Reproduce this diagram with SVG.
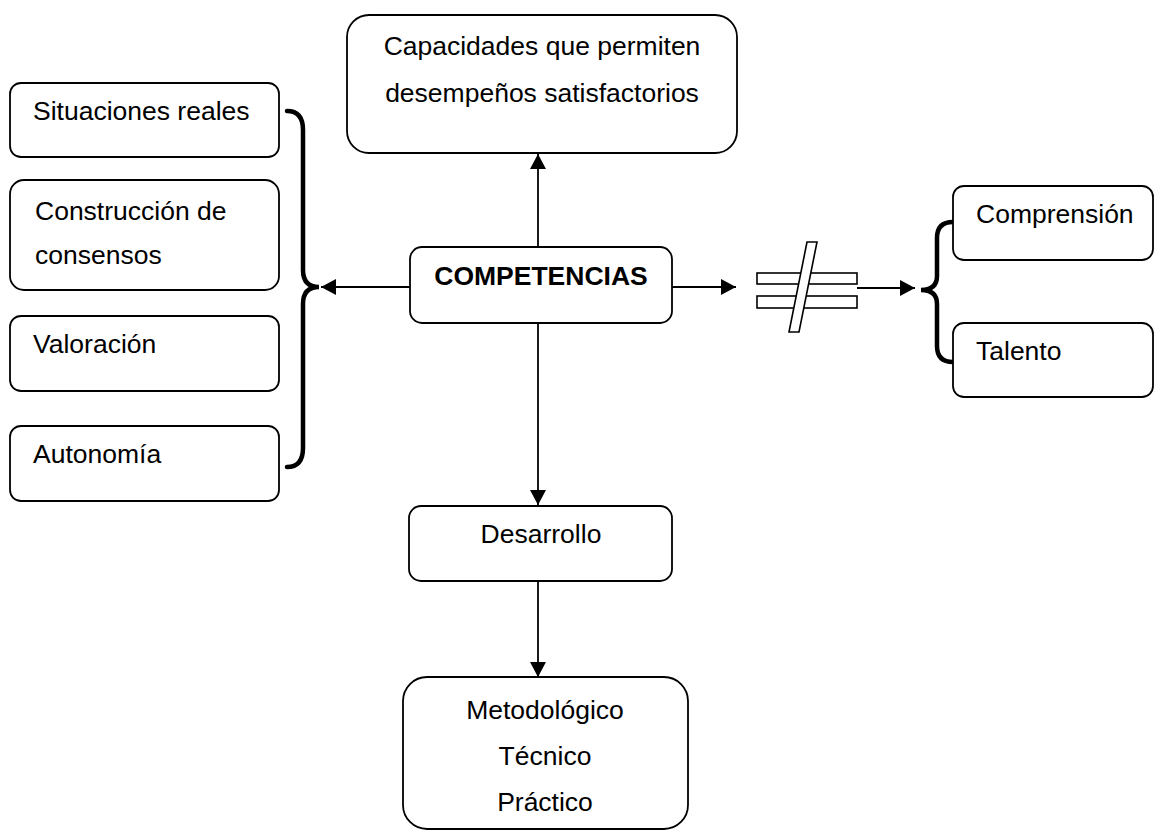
<svg xmlns="http://www.w3.org/2000/svg" width="1155" height="831" viewBox="0 0 1155 831">
<style>
.box{fill:#fff;stroke:#000;stroke-width:1.8}
.t{font-family:"Liberation Sans",Arial,sans-serif;font-size:26.5px;fill:#000}
.c{text-anchor:middle}
.b{font-weight:bold}
.ln{stroke:#000;stroke-width:1.8;fill:none}
.brace{stroke:#000;stroke-width:4.5;fill:none;stroke-linecap:round}
</style>
<defs>
<marker id="ah" markerUnits="userSpaceOnUse" markerWidth="16" markerHeight="16" refX="15" refY="8" orient="auto">
<path d="M0,0 L15,8 L0,16 z" fill="#000"/>
</marker>
</defs>
<rect width="1155" height="831" fill="#fff"/>
<g id="connectors">
<line class="ln" x1="538" y1="248" x2="538" y2="154" marker-end="url(#ah)"/>
<line class="ln" x1="410" y1="287" x2="321" y2="287" marker-end="url(#ah)"/>
<line class="ln" x1="672" y1="287" x2="736" y2="287" marker-end="url(#ah)"/>
<line class="ln" x1="857" y1="288" x2="915" y2="288" marker-end="url(#ah)"/>
<line class="ln" x1="538" y1="323" x2="538" y2="505" marker-end="url(#ah)"/>
<line class="ln" x1="538" y1="581" x2="538" y2="677" marker-end="url(#ah)"/>
<path class="brace" d="M287,111 Q303,111 303,130 L303,270 Q303,287 319,287 Q303,287 303,304 L303,448 Q303,467 287,467"/>
<path class="brace" d="M953,222 Q937,222 937,238 L937,276 Q937,290 921,290 Q937,290 937,304 L937,346 Q937,362 953,362"/>
</g>
<g id="not-equal">
<rect x="757" y="273" width="100" height="11" fill="#fff" stroke="#000" stroke-width="1.6"/>
<rect x="757" y="296" width="100" height="12" fill="#fff" stroke="#000" stroke-width="1.6"/>
<polygon points="807,242 817,242 799,332 789,332" fill="#fff" stroke="#000" stroke-width="1.6"/>
</g>
<g id="n-capacidades">
<rect class="box" x="347" y="15" width="390" height="138" rx="22"/>
<text class="t c" x="542" y="55">Capacidades que permiten</text>
<text class="t c" x="542" y="102">desempeños satisfactorios</text>
</g>
<g id="n-competencias">
<rect class="box" x="410" y="247" width="262" height="76" rx="12"/>
<text class="t c b" x="541" y="285">COMPETENCIAS</text>
</g>
<g id="n-situaciones">
<rect class="box" x="10" y="83" width="269" height="74" rx="11"/>
<text class="t" x="33" y="120">Situaciones reales</text>
</g>
<g id="n-construccion">
<rect class="box" x="10" y="180" width="269" height="110" rx="14"/>
<text class="t" x="35" y="220">Construcción de</text>
<text class="t" x="35" y="264">consensos</text>
</g>
<g id="n-valoracion">
<rect class="box" x="10" y="316" width="269" height="75" rx="11"/>
<text class="t" x="33" y="353">Valoración</text>
</g>
<g id="n-autonomia">
<rect class="box" x="10" y="426" width="269" height="75" rx="11"/>
<text class="t" x="33" y="463">Autonomía</text>
</g>
<g id="n-comprension">
<rect class="box" x="953" y="186" width="200" height="74" rx="11"/>
<text class="t" x="976" y="223">Comprensión</text>
</g>
<g id="n-talento">
<rect class="box" x="953" y="323" width="200" height="74" rx="11"/>
<text class="t" x="976" y="360">Talento</text>
</g>
<g id="n-desarrollo">
<rect class="box" x="409" y="506" width="263" height="75" rx="12"/>
<text class="t c" x="541" y="543">Desarrollo</text>
</g>
<g id="n-metodologico">
<rect class="box" x="403" y="677" width="285" height="152" rx="24"/>
<text class="t c" x="545" y="719">Metodológico</text>
<text class="t c" x="545" y="765">Técnico</text>
<text class="t c" x="545" y="811">Práctico</text>
</g>
</svg>
